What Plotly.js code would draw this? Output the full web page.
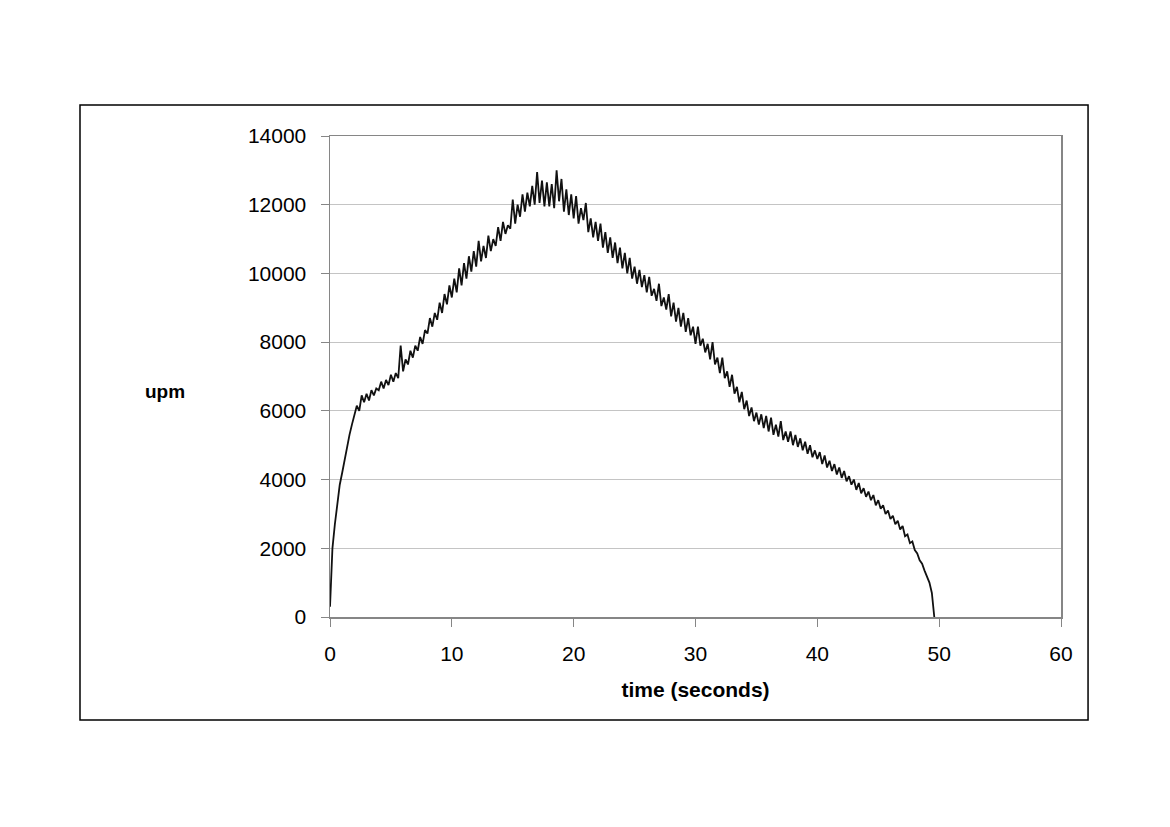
<!DOCTYPE html>
<html>
<head>
<meta charset="utf-8">
<script src="https://cdn.plot.ly/plotly-3.0.1.min.js"></script>
<style>
html,body{margin:0;padding:0;background:#fff;}
#chart{width:1170px;height:827px;}
</style>
</head>
<body>
<div id="chart"></div>
<script>
// Sampling of the recorded speed (one sample every 0.2 s, starting at t = 0)
const sampleStart = 0;
const sampleStep = 0.2;

// upm readings, in 2-second blocks
const upm_00_02 = [300, 2000, 2700, 3300, 3850, 4200, 4600, 4900, 5300, 5600];
const upm_02_04 = [5850, 6150, 6000, 6450, 6250, 6500, 6300, 6600, 6450, 6650];
const upm_04_06 = [6600, 6850, 6650, 6900, 6750, 7050, 6850, 7100, 6950, 7900];
const upm_06_08 = [7150, 7500, 7350, 7750, 7550, 7900, 7750, 8150, 7950, 8350];
const upm_08_10 = [8250, 8700, 8450, 8850, 8650, 9150, 8850, 9400, 9100, 9650];
const upm_10_12 = [9300, 9850, 9450, 10150, 9650, 10300, 9850, 10500, 10050, 10650];
const upm_12_14 = [10200, 10950, 10350, 10800, 10450, 11100, 10650, 11000, 10800, 11350];
const upm_14_16 = [10950, 11500, 11150, 11400, 11300, 12150, 11450, 12000, 11650, 12300];
const upm_16_18 = [11800, 12350, 11950, 12550, 12000, 12950, 12050, 12700, 11950, 12650];
const upm_18_20 = [11950, 12600, 11900, 13000, 12100, 12750, 11800, 12450, 11700, 12300];
const upm_20_22 = [11600, 12250, 11450, 11900, 11550, 12050, 11200, 11600, 11050, 11500];
const upm_22_24 = [10950, 11450, 10750, 11200, 10600, 11050, 10450, 10900, 10300, 10750];
const upm_24_26 = [10150, 10600, 10000, 10450, 9850, 10200, 9700, 10100, 9600, 9950];
const upm_26_28 = [9450, 9900, 9350, 9550, 9200, 9700, 9050, 9300, 8950, 9400];
const upm_28_30 = [8750, 9150, 8600, 9000, 8450, 8850, 8300, 8700, 8200, 8450];
const upm_30_32 = [7950, 8450, 7900, 8100, 7700, 7950, 7500, 8000, 7350, 7550];
const upm_32_34 = [7100, 7550, 6950, 7150, 6700, 7050, 6500, 6700, 6250, 6550];
const upm_34_36 = [6050, 6300, 5850, 6100, 5700, 5950, 5600, 5900, 5500, 5850];
const upm_36_38 = [5400, 5800, 5300, 5600, 5250, 5700, 5150, 5400, 5100, 5400];
const upm_38_40 = [5000, 5300, 4950, 5200, 4850, 5100, 4750, 5000, 4650, 4850];
const upm_40_42 = [4600, 4800, 4450, 4700, 4350, 4550, 4250, 4450, 4150, 4350];
const upm_42_44 = [4050, 4250, 3950, 4100, 3850, 4000, 3700, 3900, 3600, 3750];
const upm_44_46 = [3500, 3650, 3400, 3550, 3250, 3400, 3150, 3250, 3000, 3100];
const upm_46_48 = [2850, 2950, 2700, 2800, 2550, 2650, 2350, 2400, 2150, 2200];
const upm_48_50 = [1950, 1850, 1650, 1550, 1350, 1150, 1000, 700, 0];

const upm = [].concat(
  upm_00_02, upm_02_04, upm_04_06, upm_06_08, upm_08_10,
  upm_10_12, upm_12_14, upm_14_16, upm_16_18, upm_18_20,
  upm_20_22, upm_22_24, upm_24_26, upm_26_28, upm_28_30,
  upm_30_32, upm_32_34, upm_34_36, upm_36_38, upm_38_40,
  upm_40_42, upm_42_44, upm_44_46, upm_46_48, upm_48_50
);

const xTicks = [0, 10, 20, 30, 40, 50, 60];
const yTicks = [0, 2000, 4000, 6000, 8000, 10000, 12000, 14000];

const FONT = '"Liberation Sans", Arial, Helvetica, sans-serif';

const trace = {
  type: 'scatter',
  mode: 'lines',
  y: upm,
  x0: sampleStart,
  dx: sampleStep,
  line: {color: '#111111', width: 1.8},
  hoverinfo: 'x+y',
  showlegend: false
};

const layout = {
  width: 1170,
  height: 827,
  paper_bgcolor: '#ffffff',
  plot_bgcolor: '#ffffff',
  margin: {l: 330, r: 109, t: 136, b: 210},
  font: {family: FONT, color: '#000000', size: 21},
  showlegend: false,
  xaxis: {
    range: [0, 60],
    tickvals: xTicks,
    ticktext: xTicks.map(String),
    ticks: 'outside',
    ticklen: 8,
    tickwidth: 1,
    tickcolor: '#868686',
    showline: true,
    linecolor: '#868686',
    linewidth: 1.5,
    mirror: true,
    showgrid: false,
    zeroline: false,
    ticklabelstandoff: 9,
    tickfont: {family: FONT, size: 21, color: '#000'},
    title: {text: '<b>time (seconds)</b>', font: {family: FONT, size: 21, color: '#000'}, standoff: 18}
  },
  yaxis: {
    range: [0, 14000],
    tickvals: yTicks,
    ticktext: yTicks.map(String),
    ticks: 'outside',
    ticklen: 8,
    tickwidth: 1,
    tickcolor: '#868686',
    showline: true,
    linecolor: '#868686',
    linewidth: 1.5,
    mirror: true,
    showgrid: true,
    gridcolor: '#c4c4c4',
    gridwidth: 1,
    zeroline: false,
    ticklabelstandoff: 10,
    tickfont: {family: FONT, size: 21, color: '#000'}
  },
  annotations: [{
    text: '<b>upm</b>',
    xref: 'paper', yref: 'paper',
    x: -0.2257, y: 0.4678,
    xanchor: 'center', yanchor: 'middle',
    showarrow: false,
    font: {family: FONT, size: 19, color: '#000'}
  }],
  shapes: [{
    type: 'rect',
    xref: 'paper', yref: 'paper',
    x0: -0.342, x1: 1.037,
    y0: -0.2141, y1: 1.0644,
    line: {color: '#000000', width: 1.5},
    fillcolor: 'rgba(0,0,0,0)',
    layer: 'above'
  }]
};

Plotly.newPlot('chart', [trace], layout, {displayModeBar: false, staticPlot: true});
</script>
</body>
</html>
